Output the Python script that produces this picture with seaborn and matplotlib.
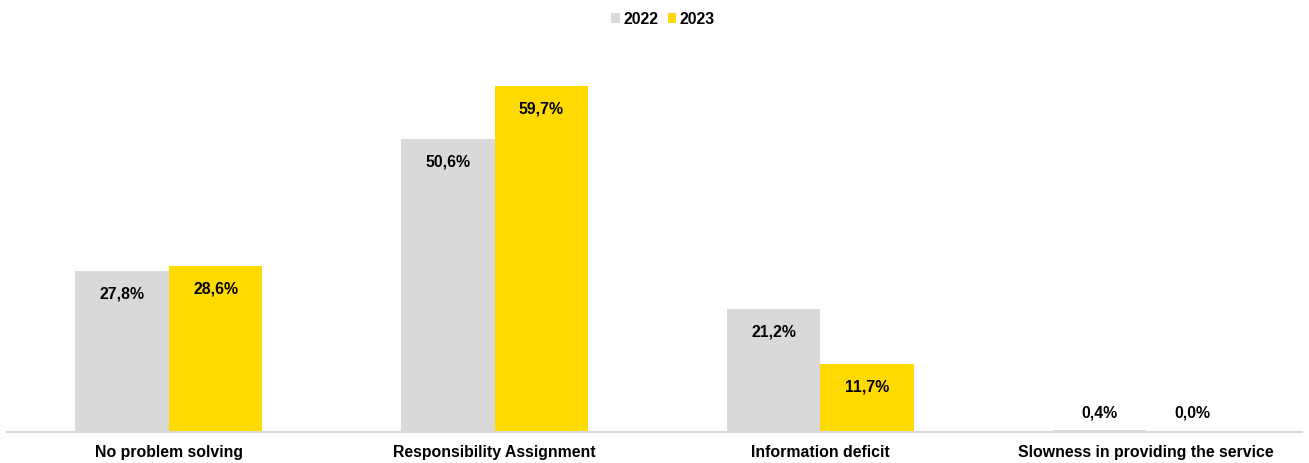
import matplotlib
matplotlib.use("Agg")
import matplotlib.pyplot as plt
import seaborn as sns
import pandas as pd
from matplotlib.patches import Patch

categories = ["No problem solving", "Responsibility Assignment",
              "Information deficit", "Slowness in providing the service"]
values_2022 = [27.8, 50.6, 21.2, 0.4]
values_2023 = [28.6, 59.7, 11.7, 0.0]
years = ["2022", "2023"]
colors = {"2022": "#D9D9D9", "2023": "#FFDA00"}

df = pd.DataFrame({
    "category": categories * 2,
    "year": [years[0]] * 4 + [years[1]] * 4,
    "value": values_2022 + values_2023,
})

sns.set_theme(style="white")
plt.rcParams["font.family"] = ["Liberation Sans", "DejaVu Sans"]

fig = plt.figure(figsize=(13.09, 4.64), dpi=100)
ax = fig.add_axes([6 / 1309, 31 / 464, 1303 / 1309, 406 / 464])

sns.barplot(data=df, x="category", y="value", hue="year", palette=colors,
            width=0.574, gap=0, saturation=1, ax=ax, legend=False,
            order=categories, hue_order=years, edgecolor="none")

ax.set_ylim(0, 70)
ax.set_xlim(-0.5, 3.5)
ax.set_xlabel("")
ax.set_ylabel("")
ax.set_yticks([])
for s in ["top", "right", "left"]:
    ax.spines[s].set_visible(False)
ax.spines["bottom"].set_color("#D9D9D9")
ax.spines["bottom"].set_linewidth(1.5)
ax.spines["bottom"].set_bounds(-0.497, 3.478)
ax.tick_params(axis="x", length=0, pad=9)
for lbl in ax.get_xticklabels():
    lbl.set_fontweight("bold")
    lbl.set_fontsize(11.4)
    lbl.set_color("black")

# value labels: inside the bar top for tall bars, above the base for tiny ones
for container in ax.containers:
    for bar in container:
        h = bar.get_height()
        x = bar.get_x() + bar.get_width() / 2
        txt = f"{h:.1f}%".replace(".", ",")
        if h > 5:
            ax.annotate(txt, (x, h), xytext=(0, -22), textcoords="offset pixels",
                        ha="center", va="center", fontsize=11.4, fontweight="bold",
                        color="black")
        else:
            ax.annotate(txt, (x, 0), xytext=(0, 20), textcoords="offset pixels",
                        ha="center", va="center", fontsize=11.4, fontweight="bold",
                        color="black")

handles = [Patch(facecolor=colors[y], edgecolor="none", label=y) for y in years]
leg = fig.legend(handles=handles, loc="center", bbox_to_anchor=(663 / 1309, 1 - 20 / 464),
                 ncol=2, frameon=False, handlelength=0.55, handleheight=0.55,
                 handletextpad=0.2, columnspacing=0.6,
                 prop={"weight": "bold", "size": 11.4})
for t in leg.get_texts():
    t.set_color("black")

fig.savefig("out.png", dpi=100)
